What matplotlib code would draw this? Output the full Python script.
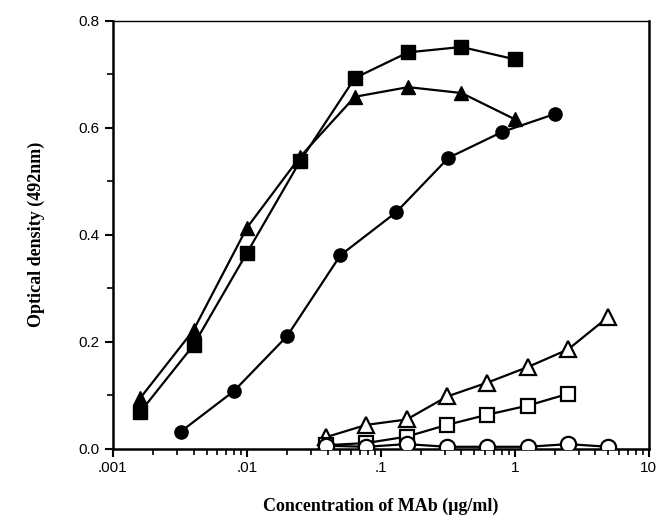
import numpy as np
import matplotlib
matplotlib.use("Agg")
from matplotlib import pyplot as plt
from matplotlib.ticker import FixedLocator, NullFormatter, MultipleLocator

# concentrations (ug/ml)
x_fast = [0.0016, 0.004, 0.01, 0.025, 0.064, 0.16, 0.4, 1.0]
x_circ = [0.0032, 0.008, 0.02, 0.05, 0.13, 0.32, 0.8, 2.0]
x_open = [0.039, 0.078, 0.156, 0.3125, 0.625, 1.25, 2.5, 5.0]

sq_filled = [0.069, 0.194, 0.366, 0.538, 0.693, 0.741, 0.751, 0.728]
tri_filled = [0.095, 0.222, 0.413, 0.546, 0.658, 0.676, 0.665, 0.616]
circ_filled = [0.032, 0.108, 0.211, 0.362, 0.442, 0.544, 0.592, 0.626]
tri_open = [0.022, 0.045, 0.055, 0.098, 0.124, 0.153, 0.186, 0.247]
sq_open = [0.007, 0.011, 0.023, 0.045, 0.064, 0.081, 0.103]
circ_open = [0.006, 0.004, 0.009, 0.004, 0.004, 0.004, 0.009, 0.004]

xticks = [0.001, 0.01, 0.1, 1, 10]
xtick_labels = [".001", ".01", ".1", "1", "10"]

plt.rcParams['font.family'] = ['Liberation Sans', 'DejaVu Sans']

fig = plt.figure(figsize=(6.6, 5.19), dpi=100)
ax = fig.add_axes([0.171, 0.135, 0.812, 0.825])

lw = 1.6
ax.plot(x_fast, tri_filled, '-^', color='black', lw=lw, ms=10, mfc='black', zorder=3)
ax.plot(x_fast, sq_filled, '-s', color='black', lw=lw, ms=9.5, mfc='black', zorder=3)
ax.plot(x_circ, circ_filled, '-o', color='black', lw=lw, ms=9.5, mfc='black', zorder=3)
ax.plot(x_open, tri_open, '-^', color='black', lw=lw, ms=11, mfc='white', mew=1.6, zorder=3)
ax.plot(x_open[:len(sq_open)], sq_open, '-s', color='black', lw=lw, ms=10.5, mfc='white', mew=1.6, zorder=4)
ax.plot(x_open, circ_open, '-o', color='black', lw=lw, ms=11, mfc='white', mew=1.6, zorder=5)

ax.set_xscale('log')
ax.set_xlim(0.001, 10)
ax.set_ylim(0, 0.8)
ax.xaxis.set_major_locator(FixedLocator(xticks))
ax.set_xticklabels(xtick_labels)
minors = [m * d for d in [0.001, 0.01, 0.1, 1] for m in range(2, 10)]
ax.xaxis.set_minor_locator(FixedLocator(minors))
ax.xaxis.set_minor_formatter(NullFormatter())
ax.yaxis.set_major_locator(MultipleLocator(0.2))
ax.yaxis.set_minor_locator(MultipleLocator(0.1))
ax.set_yticks([0.0, 0.2, 0.4, 0.6, 0.8])
ax.set_yticklabels(["0.0", "0.2", "0.4", "0.6", "0.8"])

ax.spines['left'].set_linewidth(1.8)
ax.spines['bottom'].set_linewidth(1.8)
ax.spines['right'].set_linewidth(1.8)
ax.spines['top'].set_linewidth(1.0)
ax.tick_params(axis='both', which='major', direction='out', length=6, width=1.5, labelsize=11)
ax.tick_params(axis='both', which='minor', direction='out', length=4, width=1.2)
ax.tick_params(axis='x', which='major', pad=3)

ax.set_xlabel("Concentration of MAb (\u03bcg/ml)", family=['Liberation Serif', 'DejaVu Serif'],
              fontweight='bold', fontsize=13, labelpad=16)
ax.set_ylabel("Optical density (492nm)", family=['Liberation Serif', 'DejaVu Serif'],
              fontweight='bold', fontsize=13, labelpad=24)

fig.savefig("out.png", dpi=100)
